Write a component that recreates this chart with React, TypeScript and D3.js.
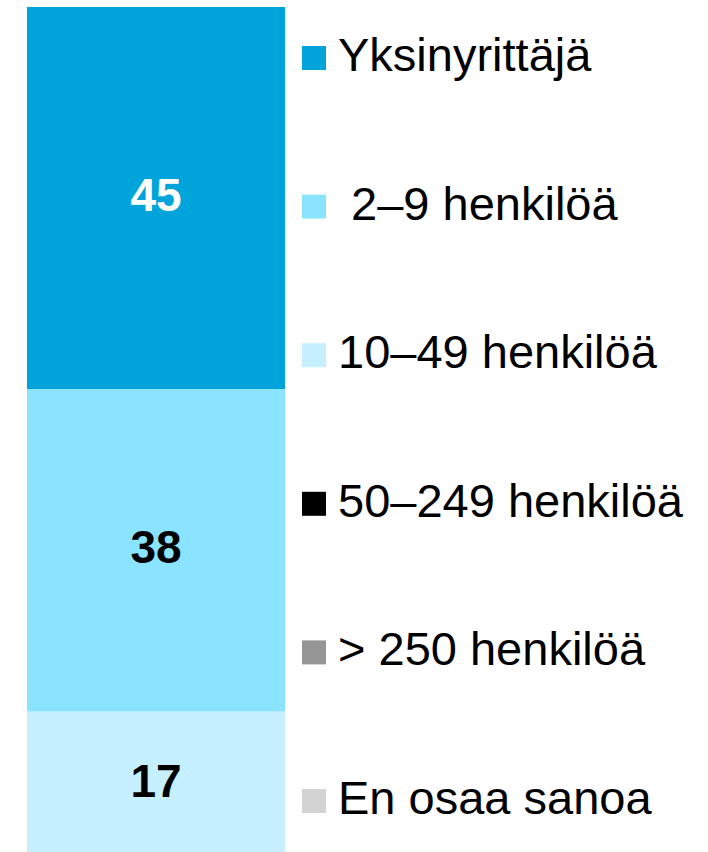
import * as d3 from "d3";
import React, { useEffect, useRef } from "react";

const categories = [
  "Yksinyrittäjä",
  " 2–9 henkilöä",
  "10–49 henkilöä",
  "50–249 henkilöä",
  "> 250 henkilöä",
  "En osaa sanoa",
];
const values = [45, 38, 17, 0, 0, 0];
const colors = ["#00a4da", "#8ae3ff", "#c6efff", "#000000", "#969696", "#d3d3d3"];
const labelColors = ["#ffffff", "#000000", "#000000", "#000000", "#000000", "#000000"];

const App: React.FC = () => {
  const svgRef = useRef<SVGSVGElement | null>(null);

  useEffect(() => {
    const width = 708;
    const height = 852;
    const svg = d3.select(svgRef.current);
    svg.selectAll("*").remove();
    svg.attr("width", width).attr("height", height);

    const font = "'Liberation Sans', Arial, sans-serif";

    // pino
    let acc = 0;
    const stack = values.map((v, i) => {
      const s = { i, v, y0: acc, y1: acc + v };
      acc += v;
      return s;
    });

    const y = d3.scaleLinear().domain([0, 100]).range([7, 856]);
    const x0 = 27;
    const x1 = 285;

    const bars = svg.append("g");
    bars
      .selectAll("rect")
      .data(stack.filter((d) => d.v > 0))
      .join("rect")
      .attr("x", x0)
      .attr("width", x1 - x0)
      .attr("y", (d) => y(d.y0))
      .attr("height", (d) => y(d.y1) - y(d.y0))
      .attr("fill", (d) => colors[d.i]);

    bars
      .selectAll("text")
      .data(stack.filter((d) => d.v > 0))
      .join("text")
      .attr("x", (x0 + x1) / 2)
      .attr("y", (d) => (y(d.y0) + y(d.y1)) / 2 + 13)
      .attr("text-anchor", "middle")
      .attr("font-family", font)
      .attr("font-weight", "bold")
      .attr("font-size", 46)
      .attr("fill", (d) => labelColors[d.i])
      .text((d) => d.v);

    // selite
    const ly = d3
      .scalePoint<string>()
      .domain(categories)
      .range([58, 801]);

    const legend = svg
      .append("g")
      .selectAll("g")
      .data(categories)
      .join("g")
      .attr("transform", (d) => `translate(302,${ly(d)})`);

    legend
      .append("rect")
      .attr("x", 0)
      .attr("y", -12)
      .attr("width", 24)
      .attr("height", 24)
      .attr("fill", (d, i) => colors[i]);

    legend
      .append("text")
      .attr("x", 36)
      .attr("y", 13)
      .attr("font-family", font)
      .attr("font-size", 47)
      .attr("fill", "#000")
      .attr("xml:space", "preserve")
      .style("white-space", "pre")
      .text((d) => d);
  }, []);

  return (
    <svg
      ref={svgRef}
      style={{ position: "absolute", left: 0, top: 0, display: "block" }}
    />
  );
};

export default App;
